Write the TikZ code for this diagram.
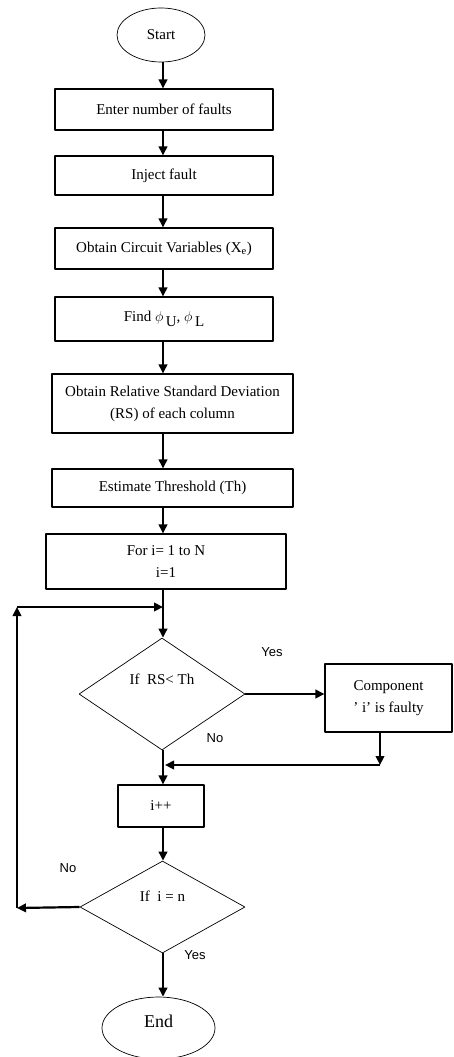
\documentclass[tikz,border=0pt]{standalone}
\usepackage{fontspec}
\setmainfont{Liberation Serif}
\newfontfamily\yesnofont{Liberation Sans}
\usetikzlibrary{shapes.geometric,arrows.meta}

\begin{document}
\begin{tikzpicture}[x=1pt, y=-1pt, line join=round,
    >={Triangle[length=9pt,width=8.5pt]},
    font=\fontsize{15}{22}\selectfont,
    box/.style={draw, line width=1.1pt, inner sep=0pt, align=center},
    term/.style={draw, ellipse, line width=0.7pt, inner sep=0pt},
    decide/.style={draw, diamond, line width=0.7pt, inner sep=0pt},
    arr/.style={->, line width=2.2pt},
    yn/.style={font=\yesnofont\fontsize{13}{15}\selectfont}]
    \useasboundingbox (0,0) rectangle (453,1057);

    % Main column
    \coordinate (axis) at (163,0);
    \node[term, minimum width=88pt, minimum height=54pt] (start) at (161,35) {Start};
    \node[box, minimum width=218pt, minimum height=41pt] (b1) at (164,109.5) {Enter number of faults};
    \node[box, minimum width=218pt, minimum height=39pt] (b2) at (164,175.5) {Inject fault};
    \node[box, minimum width=218pt, minimum height=41pt] (b3) at (164,248.5) {Obtain Circuit Variables (X\textsubscript{e})};
    \node[box, minimum width=218pt, minimum height=44pt] (b4) at (164,319)
        {Find $\phi$\,\raisebox{-5pt}{U},\ $\phi$\,\raisebox{-5pt}{L}};
    \node[box, minimum width=241pt, minimum height=59pt] (b5) at (172.5,403.5) {Obtain Relative Standard Deviation\\(RS) of each column};
    \node[box, minimum width=241pt, minimum height=38pt] (b6) at (172.5,488) {Estimate Threshold (Th)};
    \node[box, minimum width=240pt, minimum height=55pt] (b7) at (166,561.5) {For i= 1 to N\\i=1};

    % Decisions
    \node[decide, minimum width=166pt, minimum height=112pt,
          label={[yshift=15pt]center:If\ \ RS< Th}] (d1) at (162,694) {};
    \node[box, minimum width=127pt, minimum height=68pt] (comp) at (388.5,698) {Component\\’ i’ is faulty};
    \node[box, minimum width=86pt, minimum height=42pt] (inc) at (161,806) {i++};
    \node[decide, minimum width=165pt, minimum height=92pt,
          label={[yshift=11pt]center:If\ \ i = n}] (d2) at (162.5,907) {};
    \node[term, minimum width=113pt, minimum height=62pt,
          label={[yshift=7pt, font=\fontsize{18}{20}\selectfont]center:End}] (stop) at (158.5,1028) {};

    % Yes / No
    \node[yn] (yes1) at (272,652) {Yes};
    \node[yn] (no1) at (215,738) {No};
    \node[yn] (no2) at (68,868) {No};
    \node[yn] (yes2) at (195,955) {Yes};

    % Straight arrows
    \foreach \a/\b in {start/b1, b1/b2, b2/b3, b3/b4, b4/b5, b5/b6, b6/b7, b7/d1, d1/inc, inc/d2, d2/stop}
        \draw[arr] (\a.south -| axis) -- (\b.north -| axis);
    \draw[arr] (d1.east) -- (d1.east -| comp.west);

    % Join back after component
    \coordinate (j1) at (165,765);
    \coordinate (j2) at (380,765);
    \draw[arr] (comp.south -| j2) -- (j2);
    \draw[arr] (j2) -- (j1);

    % Loop back
    \coordinate (lb) at (17,908);
    \coordinate (lt) at (17,607);
    \coordinate (lj) at (163,607);
    \draw[arr] (d2.west) -- (lb);
    \draw[arr] (lb) -- (lt);
    \draw[arr] (lt) -- (lj);
\end{tikzpicture}
\end{document}
